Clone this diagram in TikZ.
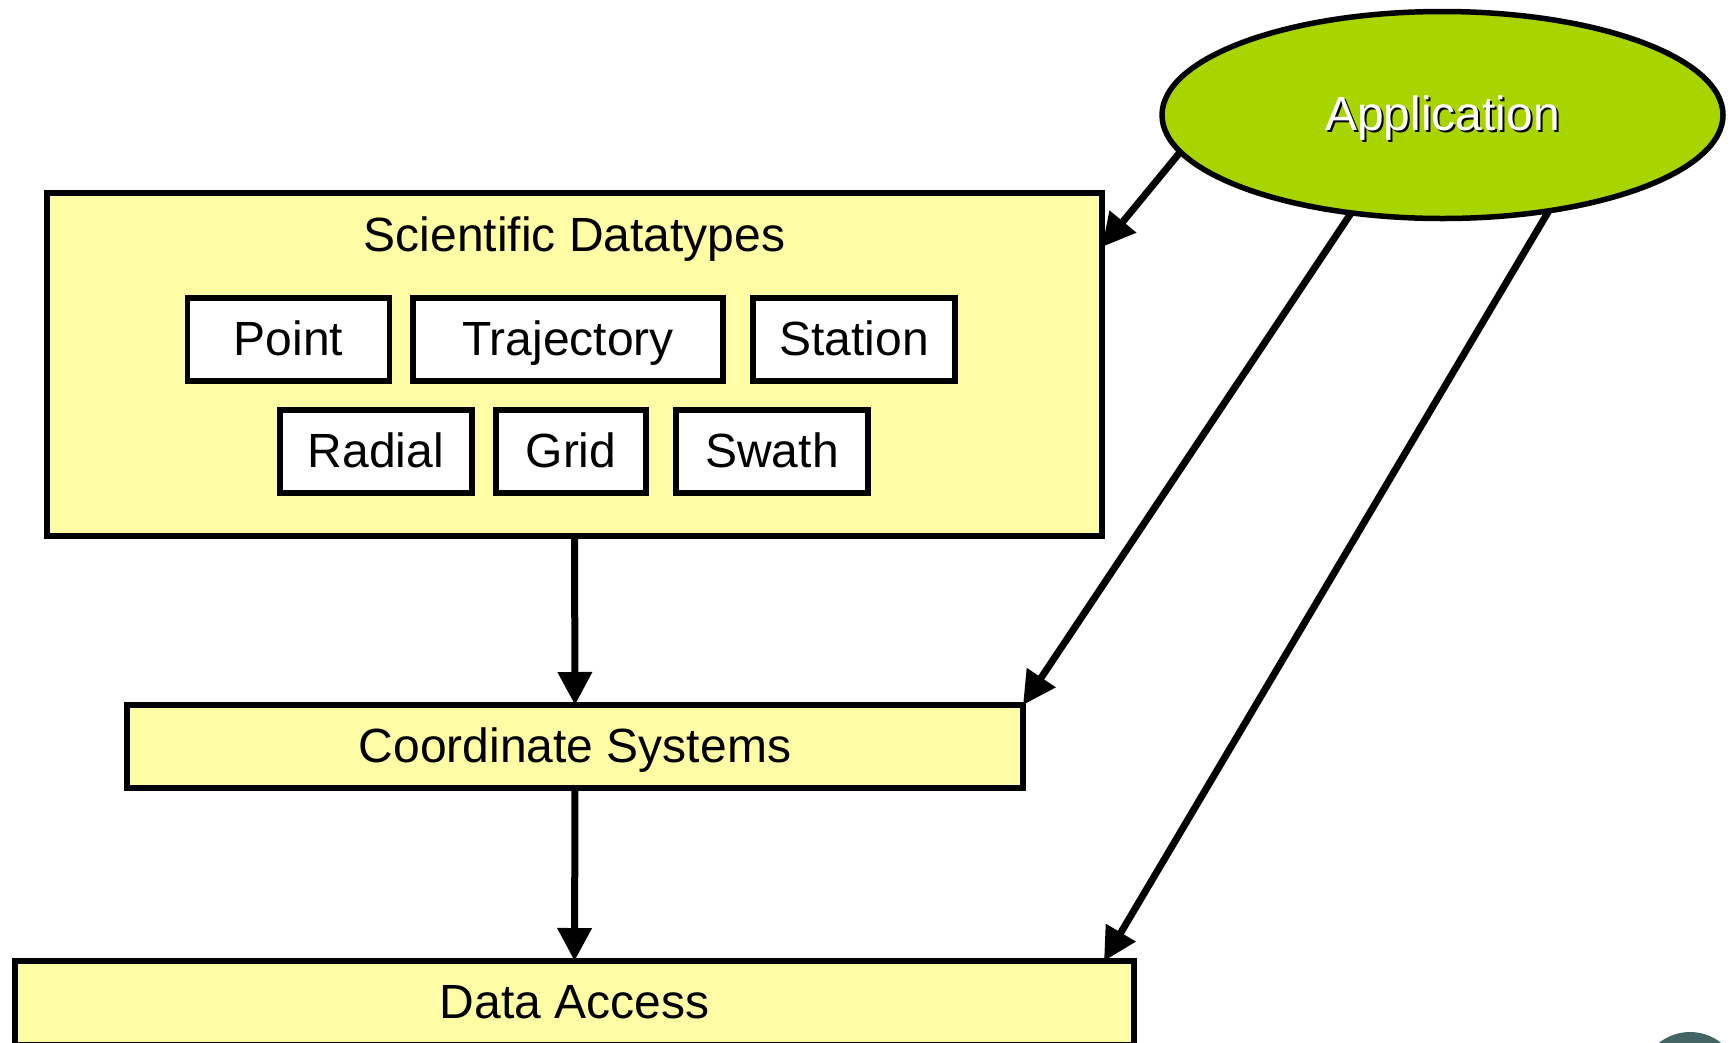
\documentclass[tikz,border=0pt]{standalone}
\usepackage{fontspec}
\setmainfont{Liberation Sans}
\usetikzlibrary{shapes.geometric,arrows.meta,calc}
\definecolor{paleyellow}{HTML}{FFFCA6}
\definecolor{appgreen}{HTML}{A8D500}
\definecolor{cornerteal}{HTML}{436564}
\tikzset{
  lab/.style={font=\fontsize{48}{56}\selectfont,text height=38pt,text depth=7pt,inner sep=0pt,outer sep=0pt},
  layerbox/.style={lab,draw=black,line width=5.5pt,fill=paleyellow},
  typebox/.style={lab,draw=black,line width=5.5pt,fill=white,minimum height=83pt},
  link/.style={draw=black,line width=7pt,-{Triangle[length=33pt,width=33pt]}}
}
\begin{document}
\begin{tikzpicture}[x=1pt,y=-1pt]
\useasboundingbox (0,0) rectangle (1731,1042);
\clip (0,0) rectangle (1731,1042);
\fill[cornerteal] (1690,1082) circle (50);
\node[layerbox,minimum width=1055pt,minimum height=343pt] (sci) at (574.5,364.5) {};
\node[lab] (scilabel) at (574.5,236) {Scientific Datatypes};
\node[typebox,minimum width=202pt] (point) at (288.5,339.5) {Point};
\node[typebox,minimum width=310pt] (traj) at (568,339.5) {Trajectory};
\node[typebox,minimum width=202pt] (station) at (854,339.5) {Station};
\node[typebox,minimum width=192pt] (radial) at (376,451.5) {Radial};
\node[typebox,minimum width=150pt] (grid) at (571,451.5) {Grid};
\node[typebox,minimum width=192pt] (swath) at (772,451.5) {Swath};
\node[layerbox,minimum width=896pt,minimum height=83pt] (coord) at (575,746.5) {Coordinate Systems};
\node[layerbox,minimum width=1119pt,minimum height=84pt] (data) at (574.5,1003) {Data Access};
\node[ellipse,draw=black,line width=5.5pt,fill=appgreen,minimum width=561pt,minimum height=207pt,inner sep=0pt,outer sep=0pt] (app) at (1442.5,115) {};
\node[lab,text=black] (appshadow) at (1444.5,117) {Application};
\node[lab,text=white] (applabel) at (1442.5,115) {Application};
\path[link] (app.188.7) -- ($(sci.north east)+(0,54)$);
\path[link] (app.227.4) -- (coord.north east);
\path[link] (app.318.7) -- ($(data.north east)+(-30,0)$);
\path[link] (sci.south) -- (coord.north);
\path[link] (coord.south) -- (data.north);
\end{tikzpicture}
\end{document}
